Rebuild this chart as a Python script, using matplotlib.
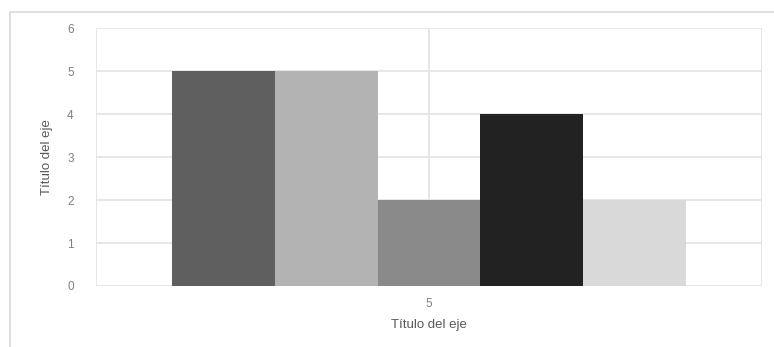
import numpy as np
import matplotlib
matplotlib.use('Agg')
from matplotlib import pyplot as plt
from matplotlib.patches import Rectangle

# datos del grafico
categoria = ['5']
valores = [5, 5, 2, 4, 2]
colores = ['#5f5f5f', '#b3b3b3', '#8a8a8a', '#222222', '#d9d9d9']
y_ticks = [0, 1, 2, 3, 4, 5, 6]
titulo_eje = 'Título del eje'

plt.rcParams['font.family'] = ['Liberation Sans', 'DejaVu Sans']

fig = plt.figure(figsize=(7.74, 3.47), dpi=100)
fig.patches.append(Rectangle((10 / 774, -0.1), 1.2, (347 - 12) / 347 + 0.1,
                             transform=fig.transFigure, fill=False,
                             edgecolor='#d9d9d9', linewidth=1.2))

ax = fig.add_axes([0.124, 0.1758, 0.8605, 0.7432])

# barras agrupadas alrededor del centro de la categoria
ancho = 0.1545
centro = 0.5
n = len(valores)
for i, (v, c) in enumerate(zip(valores, colores)):
    x = centro + (i - (n - 1) / 2) * ancho
    ax.bar(x, v, width=ancho, color=c, edgecolor='none', zorder=3)

ax.set_xlim(0, 1)
ax.set_ylim(0, 6)
ax.set_yticks(y_ticks)
ax.set_xticks([centro])
ax.set_xticklabels(categoria)

# lineas de cuadricula
for y in y_ticks:
    ax.axhline(y, color='#e3e3e3', linewidth=1.2, zorder=1)
for x in [0, centro, 1]:
    ax.axvline(x, color='#e3e3e3', linewidth=1.2, zorder=1)

for s in ax.spines.values():
    s.set_visible(False)
ax.tick_params(axis='both', length=0, labelsize=8.5, labelcolor='#7f7f7f')
ax.tick_params(axis='y', pad=16)
ax.tick_params(axis='x', pad=9)

ax.set_ylabel(titulo_eje, fontsize=9.5, color='#595959', labelpad=10)
ax.set_xlabel(titulo_eje, fontsize=9.5, color='#595959', labelpad=6)

fig.savefig('out.png', dpi=100)
